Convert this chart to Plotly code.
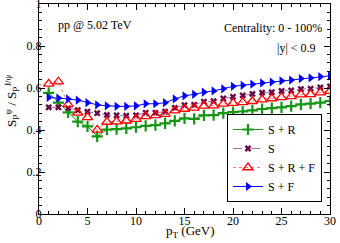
import plotly.graph_objects as go

pt = list(range(1, 31))

s_r = [0.577, 0.530, 0.484, 0.440, 0.417, 0.370, 0.402, 0.404, 0.408, 0.413,
       0.420, 0.423, 0.432, 0.443, 0.455, 0.453, 0.470, 0.471, 0.480, 0.485,
       0.488, 0.493, 0.500, 0.504, 0.508, 0.514, 0.522, 0.526, 0.530, 0.538]
s_only = [0.508, 0.508, 0.504, 0.494, 0.487, 0.480, 0.472, 0.470, 0.468, 0.470,
          0.482, 0.482, 0.487, 0.505, 0.518, 0.520, 0.535, 0.537, 0.550, 0.558,
          0.565, 0.572, 0.578, 0.580, 0.586, 0.588, 0.595, 0.597, 0.603, 0.608]
s_r_f = [0.620, 0.630, 0.522, 0.482, 0.460, 0.401, 0.438, 0.440, 0.444, 0.452,
         0.465, 0.470, 0.476, 0.492, 0.500, 0.505, 0.515, 0.516, 0.524, 0.528,
         0.532, 0.537, 0.545, 0.550, 0.555, 0.560, 0.568, 0.570, 0.578, 0.585]
s_f = [0.555, 0.552, 0.548, 0.542, 0.530, 0.520, 0.515, 0.513, 0.512, 0.515,
       0.525, 0.525, 0.530, 0.548, 0.563, 0.570, 0.580, 0.586, 0.596, 0.608,
       0.613, 0.618, 0.624, 0.628, 0.634, 0.638, 0.645, 0.648, 0.654, 0.658]

series_names = ["S + R", "S", "S + R + F", "S + F"]

x_tickvals = [0, 5, 10, 15, 20, 25, 30]
x_ticktext = ["0", "5", "10", "15", "20", "25", "30"]
y_tickvals = [0, 0.2, 0.4, 0.6, 0.8, 1.0]
y_ticktext = ["0", "0.2", "0.4", "0.6", "0.8", "1"]

FONT = "Liberation Serif"
GREEN = "rgb(20,150,20)"
MAROON = "rgb(103,7,72)"
RED = "rgb(255,0,0)"
BLUE = "rgb(0,0,255)"

fig = go.Figure()
fig.add_trace(go.Scatter(
    x=pt, y=s_r, name=series_names[0], mode="lines+markers",
    line=dict(color=GREEN, width=1),
    marker=dict(symbol="cross-thin", size=8, line=dict(color=GREEN, width=2.2), color=GREEN)))
fig.add_trace(go.Scatter(
    x=pt, y=s_only, name=series_names[1], mode="lines+markers",
    line=dict(color="rgb(170,110,160)", width=1, dash="dash"),
    marker=dict(symbol="x", size=6, color=MAROON)))
fig.add_trace(go.Scatter(
    x=pt, y=s_r_f, name=series_names[2], mode="lines+markers",
    line=dict(color="rgb(255,120,120)", width=1, dash="dot"),
    marker=dict(symbol="triangle-up-open", size=9, color=RED, line=dict(width=1.3, color=RED))))
fig.add_trace(go.Scatter(
    x=pt, y=s_f, name=series_names[3], mode="lines+markers",
    line=dict(color=BLUE, width=1),
    marker=dict(symbol="triangle-right", size=8, color=BLUE)))

axis_common = dict(
    showline=True, linecolor="black", linewidth=1.3, mirror="allticks",
    ticks="inside", ticklen=6, tickwidth=1.2, tickcolor="black",
    showgrid=False, zeroline=False, automargin=False,
    ticklabeloverflow="allow",
    tickfont=dict(family=FONT, size=12, color="black"),
)

fig.update_xaxes(range=[0, 30], tickmode="array", tickvals=x_tickvals, ticktext=x_ticktext,
                 ticklabelstandoff=-5,
                 minor=dict(ticks="inside", ticklen=3, tickmode="linear", tick0=0, dtick=1,
                            tickcolor="black", tickwidth=1),
                 **axis_common)
fig.update_yaxes(range=[0, 1], tickmode="array", tickvals=y_tickvals, ticktext=y_ticktext,
                 ticklabelstandoff=-6,
                 minor=dict(ticks="inside", ticklen=3, tickmode="linear", tick0=0, dtick=0.04,
                            tickcolor="black", tickwidth=1),
                 **axis_common)

annos = [
    dict(text="pp @ 5.02 TeV", x=95, y=25, size=12),
    dict(text="Centrality: 0 - 100%", x=273, y=28, size=12),
    dict(text="|y| < 0.9", x=296, y=48, size=12),
]
W, H = 340, 243
L, R, T, B = 39, 10, 4, 29
pw, ph = W - L - R, H - T - B
for a in annos:
    fig.add_annotation(text=a["text"], xref="paper", yref="paper",
                       x=(a["x"] - L) / pw, y=(H - B - a["y"]) / ph,
                       xanchor="center", yanchor="middle", showarrow=False,
                       font=dict(family=FONT, size=a["size"], color="black"))

fig.add_annotation(text="p<sub>T</sub> (GeV)", xref="paper", yref="paper",
                   x=(190 - L) / pw, y=(H - B - 232) / ph, xanchor="center", yanchor="middle",
                   showarrow=False, font=dict(family=FONT, size=13, color="black"))
fig.add_annotation(text="S<sub>P</sub><sup>ψ</sup> / S<sub>P</sub><sup>J/ψ</sup>",
                   xref="paper", yref="paper", textangle=-90,
                   x=(12 - L) / pw, y=(H - B - 101) / ph, xanchor="center", yanchor="middle",
                   showarrow=False, font=dict(family=FONT, size=13, color="black"))

fig.update_layout(
    width=W, height=H,
    margin=dict(l=L, r=R, t=T, b=B, autoexpand=False),
    paper_bgcolor="white", plot_bgcolor="white",
    legend=dict(x=(227 - L) / pw, y=(H - B - 202) / ph, xanchor="left", yanchor="bottom",
                bgcolor="white", bordercolor="black", borderwidth=1,
                font=dict(family=FONT, size=12, color="black"),
                tracegroupgap=0, itemwidth=30),
    showlegend=True,
)

fig.write_html("out.html", config={"displayModeBar": False},
               post_script="document.body.style.margin='0';document.body.style.padding='0';")
